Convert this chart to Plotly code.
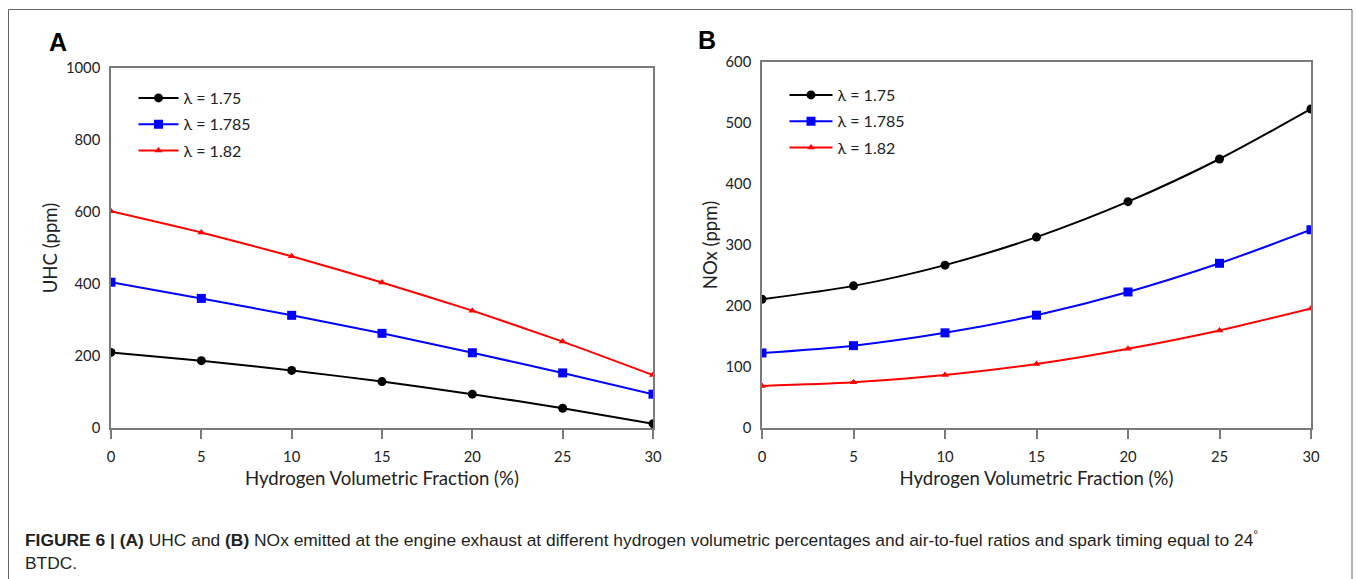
import plotly.graph_objects as go

h2_fraction = [0, 5, 10, 15, 20, 25, 30]
series_names = ["λ = 1.75", "λ = 1.785", "λ = 1.82"]
uhc_175 = [210, 187, 160, 129, 94, 55, 12]
uhc_1785 = [405, 360, 313, 263, 209, 153, 94]
uhc_182 = [602, 543, 477, 404, 326, 240, 147]
nox_175 = [211, 233, 267, 313, 371, 441, 523]
nox_1785 = [123, 135, 156, 185, 223, 270, 325]
nox_182 = [69, 75, 87, 105, 130, 160, 196]
uhc_ticks = [0, 200, 400, 600, 800, 1000]
nox_ticks = [0, 100, 200, 300, 400, 500, 600]
x_ticks = [0, 5, 10, 15, 20, 25, 30]

colors = ["#000000", "#0000ff", "#ff0000"]
symbols = ["circle", "square", "triangle-up"]
msizes = [9, 9, 7]

W, H = 1356, 579
def px(x): return x / W
def py(y): return 1 - y / H

FONT = "Lato, Open Sans, sans-serif"

fig = go.Figure()
for i, ys in enumerate([uhc_175, uhc_1785, uhc_182]):
    fig.add_trace(go.Scatter(x=h2_fraction, y=ys, name=series_names[i], mode="lines+markers",
                             line=dict(color=colors[i], width=2, shape="spline", smoothing=0.6),
                             marker=dict(symbol=symbols[i], size=msizes[i], color=colors[i]),
                             xaxis="x", yaxis="y", legend="legend", legendgroup="a%d" % i))
for i, ys in enumerate([nox_175, nox_1785, nox_182]):
    fig.add_trace(go.Scatter(x=h2_fraction, y=ys, name=series_names[i], mode="lines+markers",
                             line=dict(color=colors[i], width=2, shape="spline", smoothing=0.8),
                             marker=dict(symbol=symbols[i], size=msizes[i], color=colors[i]),
                             xaxis="x2", yaxis="y2", legend="legend2", legendgroup="b%d" % i))

tickfont = dict(family=FONT, size=14.8, color="#222")
titlefont = dict(family=FONT, size=18.6, color="#222")
axcommon = dict(showline=True, linecolor="#7a7a7a", linewidth=1.5, mirror=True, showgrid=False,
                zeroline=False, tickfont=tickfont, automargin=False)
legfont = dict(family=FONT, size=16, color="#222")

fig.update_layout(
    template="none",
    width=W, height=H, margin=dict(l=0, r=0, t=0, b=0, pad=0),
    paper_bgcolor="white", plot_bgcolor="white", showlegend=True,
    xaxis=dict(domain=[px(111), px(653)], range=[0, 30], tickvals=x_ticks, ticks="outside",
               ticklen=9, tickcolor="#7a7a7a", tickwidth=1.5, ticklabelstandoff=5, anchor="y",
               title=dict(text="Hydrogen Volumetric Fraction (%)", font=titlefont, standoff=8), **axcommon),
    yaxis=dict(domain=[py(428), py(68)], range=[0, 1000], tickvals=uhc_ticks, ticks="", anchor="x",
               ticklabelstandoff=6,
               title=dict(text="UHC (ppm)", font=titlefont, standoff=3), **axcommon),
    xaxis2=dict(domain=[px(762), px(1311)], range=[0, 30], tickvals=x_ticks, ticks="outside",
                ticklen=9, tickcolor="#7a7a7a", tickwidth=1.5, ticklabelstandoff=5, anchor="y2",
                title=dict(text="Hydrogen Volumetric Fraction (%)", font=titlefont, standoff=8), **axcommon),
    yaxis2=dict(domain=[py(428), py(62)], range=[0, 600], tickvals=nox_ticks, ticks="", anchor="x2",
                ticklabelstandoff=6,
                title=dict(text="NOx (ppm)", font=titlefont, standoff=3), **axcommon),
    legend=dict(x=px(133.5), y=py(81), xanchor="left", yanchor="top",
                bgcolor="rgba(0,0,0,0)", font=legfont, tracegroupgap=2.5, itemwidth=40),
    legend2=dict(x=px(784.5), y=py(78), xanchor="left", yanchor="top",
                 bgcolor="rgba(0,0,0,0)", font=legfont, tracegroupgap=2.5, itemwidth=43),
    shapes=[dict(type="rect", xref="paper", yref="paper", x0=px(8.5), x1=px(1352), y0=-0.05, y1=py(9.5),
                 line=dict(color="#666", width=1), fillcolor="rgba(0,0,0,0)")],
    annotations=[
        dict(text="<b>A</b>", x=px(47), y=py(42), xref="paper", yref="paper", xanchor="left", yanchor="middle",
             showarrow=False, font=dict(family="Liberation Sans, Arial, sans-serif", size=25, color="#000")),
        dict(text="<b>B</b>", x=px(696), y=py(40), xref="paper", yref="paper", xanchor="left", yanchor="middle",
             showarrow=False, font=dict(family="Liberation Sans, Arial, sans-serif", size=25, color="#000")),
        dict(text="<b>FIGURE 6 | (A)</b> UHC and <b>(B)</b> NOx emitted at the engine exhaust at different hydrogen volumetric percentages and air-to-fuel ratios and spark timing equal to 24<sup>°</sup>",
             x=px(23), y=py(539), xref="paper", yref="paper", xanchor="left", yanchor="middle", showarrow=False,
             font=dict(family="Liberation Sans, Arial, sans-serif", size=17.4, color="#231f20")),
        dict(text="BTDC.", x=px(23), y=py(563), xref="paper", yref="paper", xanchor="left", yanchor="middle",
             showarrow=False, font=dict(family="Liberation Sans, Arial, sans-serif", size=17.4, color="#231f20")),
    ],
)

fig.write_html("out.html")
